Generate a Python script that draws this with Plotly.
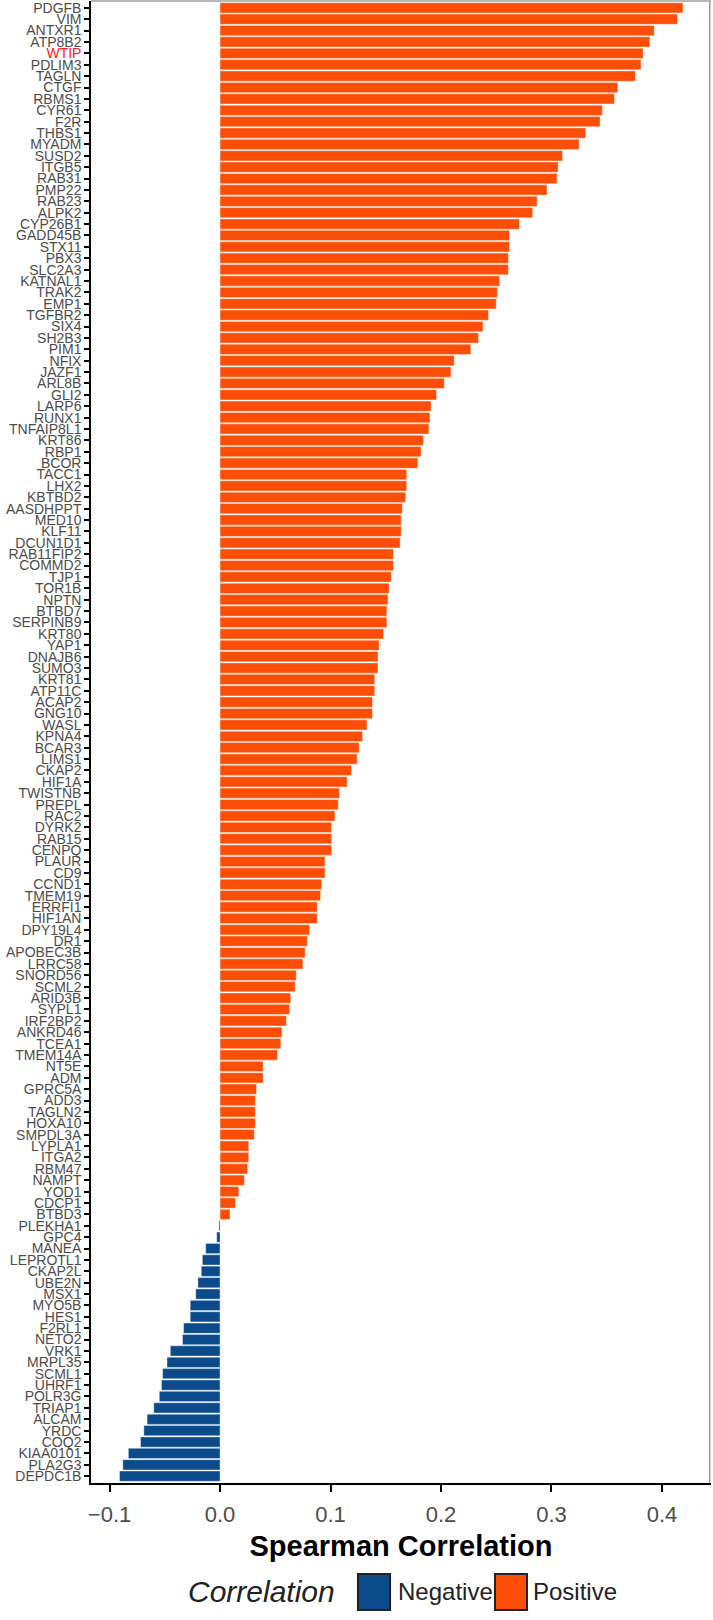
import plotly.graph_objects as go

genes = ["PDGFB","VIM","ANTXR1","ATP8B2","WTIP","PDLIM3","TAGLN","CTGF","RBMS1","CYR61","F2R",
         "THBS1","MYADM","SUSD2","ITGB5","RAB31","PMP22","RAB23","ALPK2","CYP26B1","GADD45B","STX11","PBX3",
         "SLC2A3","KATNAL1","TRAK2","EMP1","TGFBR2","SIX4","SH2B3","PIM1","NFIX","JAZF1","ARL8B",
         "GLI2","LARP6","RUNX1","TNFAIP8L1","KRT86","RBP1","BCOR","TACC1","LHX2","KBTBD2","AASDHPPT","MED10",
         "KLF11","DCUN1D1","RAB11FIP2","COMMD2","TJP1","TOR1B","NPTN","BTBD7","SERPINB9","KRT80","YAP1",
         "DNAJB6","SUMO3","KRT81","ATP11C","ACAP2","GNG10","WASL","KPNA4","BCAR3","LIMS1","CKAP2","HIF1A",
         "TWISTNB","PREPL","RAC2","DYRK2","RAB15","CENPQ","PLAUR","CD9","CCND1","TMEM19","ERRFI1",
         "HIF1AN","DPY19L4","DR1","APOBEC3B","LRRC58","SNORD56","SCML2","ARID3B","SYPL1","IRF2BP2","ANKRD46","TCEA1",
         "TMEM14A","NT5E","ADM","GPRC5A","ADD3","TAGLN2","HOXA10","SMPDL3A","LYPLA1","ITGA2","RBM47",
         "NAMPT","YOD1","CDCP1","BTBD3","PLEKHA1","GPC4","MANEA","LEPROTL1","CKAP2L","UBE2N","MSX1","MYO5B",
         "HES1","F2RL1","NETO2","VRK1","MRPL35","SCML1","UHRF1","POLR3G","TRIAP1","ALCAM","YRDC",
         "COQ2","KIAA0101","PLA2G3","DEPDC1B"]

values = [0.419,0.414,0.393,0.389,0.383,0.381,0.376,0.360,0.357,0.346,0.344,
          0.331,0.325,0.310,0.306,0.305,0.296,0.287,0.283,0.271,0.262,0.262,0.261,
          0.261,0.253,0.251,0.250,0.243,0.238,0.234,0.227,0.212,0.209,0.203,
          0.196,0.191,0.190,0.189,0.184,0.182,0.179,0.169,0.169,0.168,0.165,0.164,
          0.164,0.163,0.157,0.157,0.155,0.153,0.152,0.151,0.151,0.148,0.144,
          0.143,0.143,0.140,0.140,0.138,0.138,0.133,0.129,0.126,0.124,0.119,0.115,
          0.108,0.107,0.104,0.101,0.101,0.101,0.095,0.095,0.092,0.091,0.088,
          0.088,0.081,0.079,0.077,0.075,0.069,0.068,0.064,0.063,0.060,0.056,0.055,
          0.052,0.039,0.039,0.033,0.032,0.032,0.032,0.031,0.026,0.026,0.025,
          0.022,0.017,0.014,0.009,-0.001,-0.003,-0.013,-0.016,-0.017,-0.020,-0.022,-0.027,
          -0.027,-0.033,-0.034,-0.045,-0.048,-0.052,-0.053,-0.055,-0.060,-0.066,-0.069,
          -0.072,-0.083,-0.088,-0.091]

highlight = "WTIP"
x_ticks = [-0.1, 0.0, 0.1, 0.2, 0.3, 0.4]
x_tick_labels = ["\u22120.1", "0.0", "0.1", "0.2", "0.3", "0.4"]
groups = ["Negative", "Positive"]
colors = {"Negative": "#0B4A8B", "Positive": "#FC4E07"}

pos_g = [g for g, v in zip(genes, values) if v >= 0]
pos_v = [v for v in values if v >= 0]
neg_g = [g for g, v in zip(genes, values) if v < 0]
neg_v = [v for v in values if v < 0]

fig = go.Figure()
fig.add_trace(go.Bar(y=neg_g, x=neg_v, orientation="h", name="Negative",
                     marker=dict(color=colors["Negative"], line=dict(color="white", width=0.4)),
                     showlegend=False))
fig.add_trace(go.Bar(y=pos_g, x=pos_v, orientation="h", name="Positive",
                     marker=dict(color=colors["Positive"], line=dict(color="white", width=0.4)),
                     showlegend=False))

ticktext = [f'<span style="color:#FF2020">{g}</span>' if g == highlight else g for g in genes]

n = len(genes)
fig.update_layout(
    width=713, height=1620,
    margin=dict(l=91, r=2, t=1, b=137, autoexpand=False),
    paper_bgcolor="white", plot_bgcolor="white",
    barmode="relative", bargap=0.1,
    font=dict(family="Arial, Liberation Sans, sans-serif", color="#4D4D4D"),
    xaxis=dict(range=[-0.1168, 0.4444], tickmode="array", tickvals=x_ticks, ticktext=x_tick_labels,
               automargin=False, ticklabelstandoff=4,
               showgrid=False, zeroline=False, showline=True, linecolor="black", linewidth=1.5,
               ticks="outside", ticklen=7, tickwidth=1.5, tickcolor="black",
               tickfont=dict(size=22, color="#4D4D4D"),
               title=dict(text="<b>Spearman Correlation</b>", font=dict(size=29, color="black"), standoff=10)),
    yaxis=dict(type="category", categoryorder="array", categoryarray=genes,
               range=[n - 1 + 0.6, -0.6], tickmode="array", tickvals=genes, ticktext=ticktext,
               automargin=False,
               showgrid=False, zeroline=False, showline=True, linecolor="black", linewidth=1.5,
               ticks="outside", ticklen=5, tickwidth=1.5, tickcolor="black",
               tickfont=dict(size=14, color="#4D4D4D")),
)

# thin gray panel edge on top and right
fig.add_shape(type="line", xref="paper", yref="paper", x0=0, x1=1, y0=1, y1=1,
              line=dict(color="#A0A0A0", width=1.5))
fig.add_shape(type="line", xref="paper", yref="paper", x0=0.998, x1=0.998, y0=0, y1=1,
              line=dict(color="#A0A0A0", width=1.5))

# legend (drawn manually to match the large ggplot key boxes)
fig.add_annotation(xref="paper", yref="paper", x=0.3968, y=-0.0729, xanchor="right", yanchor="middle",
                   text="<i>Correlation</i>", showarrow=False, font=dict(size=30, color="#222222"))
key_x = {"Negative": (0.4306, 0.4823), "Positive": (0.6516, 0.7032)}
lab_x = {"Negative": 0.4919, "Positive": 0.7097}
for g in groups:
    x0, x1 = key_x[g]
    fig.add_shape(type="rect", xref="paper", yref="paper", x0=x0, x1=x1, y0=-0.0857, y1=-0.0614,
                  fillcolor=colors[g], line=dict(color="#222222", width=2))
    fig.add_annotation(xref="paper", yref="paper", x=lab_x[g], y=-0.0729, xanchor="left", yanchor="middle",
                       text=g, showarrow=False, font=dict(size=24, color="#222222"))

fig.write_html("out.html", config={"displayModeBar": False},
               post_script="document.body.style.margin='0';")
